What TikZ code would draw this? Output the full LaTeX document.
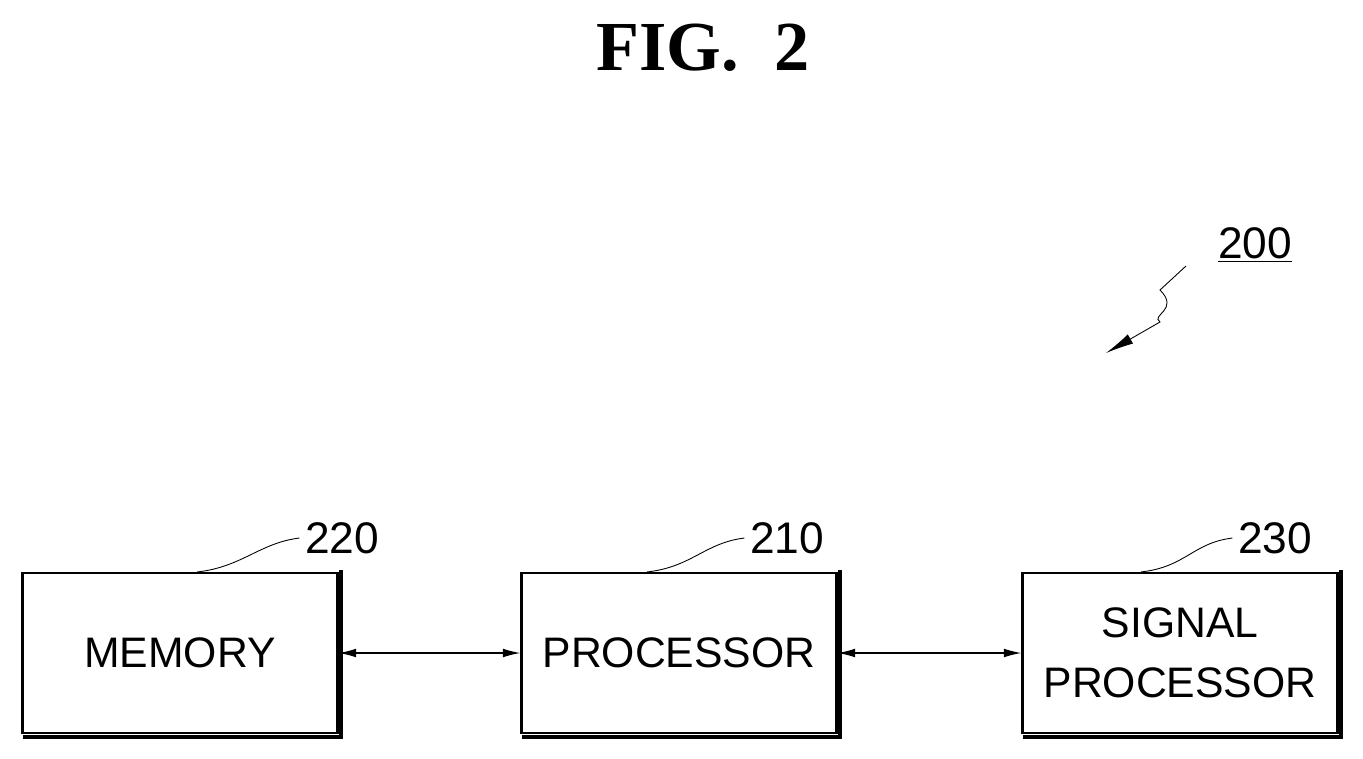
\documentclass[tikz,border=0pt]{standalone}
\usepackage{fontspec}
\setmainfont{Liberation Sans}[Scale=0.9]
\newfontfamily\figfont{Liberation Serif}
\usetikzlibrary{positioning,arrows.meta}
\begin{document}
\begin{tikzpicture}[x=0.02cm,y=-0.02cm,
   blk/.style={draw,line width=1.2pt,minimum width=6.3cm,minimum height=3.2cm,
      align=center,font=\fontsize{27}{34}\selectfont},
   num/.style={font=\fontsize{28}{30}\selectfont},
   lead/.style={line width=0.5pt},
   link/.style={line width=0.8pt,{Latex[length=10pt,width=5pt]}-{Latex[length=10pt,width=5pt]}}]

   \useasboundingbox (0,0) rectangle (1363,758);
   \node[font=\figfont\bfseries\fontsize{40}{44}\selectfont] (title) at (703,48) {FIG.\ \ 2};

   \node[blk] (mem) at (180,653) {MEMORY};
   \node[blk] (proc) at (679,653) {PROCESSOR};
   \node[blk] (sig) at (1180,653) {SIGNAL\\PROCESSOR};

   % shadow on right and bottom
   \foreach \b in {mem,proc,sig} {
      \draw[line width=2.2pt] ([xshift=1.5pt,yshift=1pt]\b.north east) -- ([xshift=1.5pt,yshift=-1.5pt]\b.south east)
         -- ([xshift=1pt,yshift=-1.5pt]\b.south west);
   }

   \draw[link] (mem.east) -- (proc.west);
   \draw[link] (proc.east) -- (sig.west);

   \node[num] (n220) at (342,538) {220};
   \node[num] (n210) at (787,538) {210};
   \node[num] (n230) at (1275,538) {230};
   \draw[lead] ([xshift=100pt]mem.north west) .. controls +(45,-5) and +(-40,5) .. (n220.west);
   \draw[lead] ([xshift=72pt]proc.north west) .. controls +(45,-5) and +(-40,5) .. (n210.west);
   \draw[lead] ([xshift=68pt]sig.north west) .. controls +(45,-5) and +(-40,5) .. (n230.west);

   \node[num] (n200) at (1255,245) {\underline{200}};
   \coordinate (tip) at (1106,353);
   \draw[lead,-{Latex[length=16pt,width=6pt]}] (1186,266) -- (1160,290) .. controls (1180,310) and (1150,315) .. (1160,322) -- (tip);
\end{tikzpicture}
\end{document}
